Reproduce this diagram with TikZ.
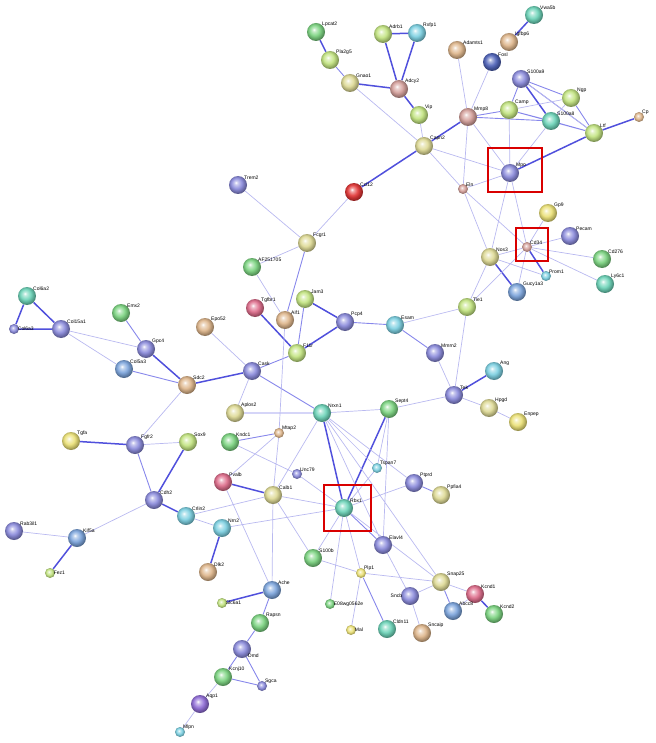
\documentclass[tikz,border=0pt]{standalone}
\usepackage{fontspec}
\setmainfont{Liberation Sans}
\usetikzlibrary{backgrounds}
\definecolor{cSlate}{RGB}{140,140,220}
\definecolor{cKhaki}{RGB}{222,218,150}
\definecolor{cYG}{RGB}{195,228,130}
\definecolor{cGreen}{RGB}{125,212,130}
\definecolor{cTeal}{RGB}{110,212,185}
\definecolor{cCyan}{RGB}{125,208,225}
\definecolor{cTan}{RGB}{222,182,140}
\definecolor{cRose}{RGB}{212,160,155}
\definecolor{cRed}{RGB}{225,55,55}
\definecolor{cPink}{RGB}{222,110,140}
\definecolor{cSteel}{RGB}{125,165,220}
\definecolor{cYellow}{RGB}{235,225,120}
\definecolor{cPurple}{RGB}{145,110,215}
\definecolor{cNavy}{RGB}{80,100,185}
\definecolor{eLight}{RGB}{185,185,240}
\definecolor{eMid}{RGB}{135,135,235}
\definecolor{eDark}{RGB}{80,80,220}
\makeatletter
\pgfdeclareradialshading[tikz@ball]{glossy}{\pgfpoint{-6bp}{7bp}}{%
  color(0bp)=(white); color(5bp)=(tikz@ball!45!white);
  color(14bp)=(tikz@ball!90!white); color(20bp)=(tikz@ball!85!black);
  color(26bp)=(tikz@ball!65!black); color(50bp)=(tikz@ball!40!black)}
\makeatother
\tikzset{
  prot/.style={circle, minimum size=18pt, inner sep=0pt, ball color=#1, shading=glossy},
  sm/.style={prot=#1, minimum size=10pt},
  lab/.style={font=\fontsize{5}{6}\selectfont, inner sep=0.5pt},
  every label/.style={lab, label distance=-2pt},
  e1/.style={eLight, line width=0.7pt},
  e2/.style={eMid, line width=0.9pt},
  e3/.style={eDark, line width=1.5pt},
  hit/.style={draw=red!85!black, line width=1.6pt}
}
\begin{document}
\begin{tikzpicture}[x=1pt,y=-1pt]
\useasboundingbox (0,0) rectangle (655,743);

% top cluster
\node[prot=cGreen, label=40:Lpcat2] (lpcat2) at (316,32) {};
\node[prot=cYG, label=40:Pla2g5] (pla2g5) at (330,60) {};
\node[prot=cKhaki, label=40:Gnao1] (gnao1) at (350,83) {};
\node[prot=cYG, label=40:Adrb1] (adrb1) at (383,34) {};
\node[prot=cCyan, label=40:Rxfp1] (rxfp1) at (417,33) {};
\node[prot=cRose, label=40:Adcy2] (adcy2) at (399,89) {};
\node[prot=cYG, label=40:Vip] (vip) at (419,115) {};
\node[prot=cKhaki, label=40:Capn2] (capn2) at (424,146) {};
\node[prot=cRed, label=40:Ccl12] (ccl12) at (354,192) {};
\node[prot=cSlate, label=40:Trem2] (trem2) at (238,185) {};
\node[prot=cTan, label=40:Adamts1] (adamts1) at (457,50) {};
\node[prot=cNavy, label=40:Fosl] (fosl) at (492,62) {};
\node[prot=cTeal, label=40:Vwa5b] (vwa) at (534,15) {};
\node[prot=cTan, label=40:Igfbp6] (igfbp) at (509,42) {};
\node[prot=cSlate, label=40:S100a9] (s100a9) at (521,79) {};
\node[prot=cYG, label=40:Ngp] (ngp) at (571,98) {};
\node[prot=cYG, label=40:Camp] (camp) at (509,110) {};
\node[prot=cTeal, label=40:S100a8] (s100a8) at (551,121) {};
\node[prot=cYG, label=40:Ltf] (ltf) at (594,133) {};
\node[sm=cTan, label=40:Cp] (cp) at (639,117) {};
\node[prot=cRose, label=40:Mmp8] (mmp8) at (468,117) {};
\node[prot=cSlate, label=40:Mpo] (mpo) at (510,173) {};
\node[sm=cRose, label=40:Eln] (eln) at (463,189) {};

% vessel cluster
\node[prot=cYellow, label=40:Gp9] (gp9) at (548,213) {};
\node[prot=cSlate, label=40:Pecam] (pecam) at (570,236) {};
\node[sm=cRose, label=40:Cd34] (cd34) at (527,247) {};
\node[prot=cKhaki, label=40:Nos3] (nos3) at (490,257) {};
\node[prot=cGreen, label=40:Cd276] (cd276) at (602,259) {};
\node[sm=cCyan, label=40:Prom1] (prom1) at (546,276) {};
\node[prot=cSteel, label=40:Gucy1a3] (gucy) at (517,292) {};
\node[prot=cTeal, label=40:Ly6c1] (ly6c1) at (605,284) {};
\node[prot=cYG, label=40:Tie1] (tie1) at (467,307) {};
\node[prot=cSlate, label=40:Mmrn2] (mmrn2) at (435,353) {};
\node[prot=cSlate, label=40:Tek] (tek) at (454,395) {};
\node[prot=cCyan, label=40:Ang] (ang) at (494,371) {};
\node[prot=cKhaki, label=40:Hpgd] (hpgd) at (489,408) {};
\node[prot=cYellow, label=40:Enpep] (enpep) at (518,422) {};

% middle
\node[prot=cKhaki, label=40:Fcgr1] (fcgr1) at (307,243) {};
\node[prot=cGreen, label=40:AF251705] (af25) at (252,267) {};
\node[prot=cYG, label=40:Jam3] (jam3) at (305,299) {};
\node[prot=cPink, label=40:Tgfbr1] (tgfbr1) at (255,308) {};
\node[prot=cTan, label=40:Aif1] (aif1) at (285,320) {};
\node[prot=cSlate, label=40:Pcp4] (pcp4) at (345,322) {};
\node[prot=cCyan, label=40:Esam] (esam) at (395,325) {};
\node[prot=cTan, label=40:Epo52] (epo52) at (205,327) {};
\node[prot=cYG, label=40:F11r] (f11r) at (297,353) {};
\node[prot=cSlate, label=40:Cask] (cask) at (252,371) {};
\node[prot=cTan, label=40:Sdc2] (sdc2) at (187,385) {};
\node[prot=cKhaki, label=40:Aplos2] (aplos2) at (235,413) {};
\node[prot=cTeal, label=40:Nrxn1] (nrxn1) at (322,413) {};
\node[prot=cGreen, label=40:Sept4] (sept4) at (389,409) {};
\node[prot=cGreen, label=40:Kndc1] (kndc1) at (230,442) {};
\node[sm=cTan, label=40:Mtap2] (mtap2) at (279,433) {};
\node[sm=cSlate, label=40:Unc79] (unc79) at (297,474) {};
\node[sm=cCyan, label=40:Tspan7] (tspan7) at (377,468) {};
\node[prot=cPink, label=40:Pvalb] (pvalb) at (223,482) {};
\node[prot=cKhaki, label=40:Calb1] (calb1) at (273,495) {};
\node[prot=cTeal, label=40:Rbx1] (rbx1) at (344,508) {};
\node[prot=cSlate, label=40:Ptprd] (ptprd) at (414,483) {};
\node[prot=cKhaki, label=40:Ppfia4] (ppfia4) at (441,495) {};
\node[prot=cSlate, label=40:Elavl4] (elavl4) at (383,545) {};

% left
\node[prot=cTeal, label=40:Col6a2] (col6a2) at (27,296) {};
\node[sm=cSlate, label=0:Col6a3] (col6a3) at (14,329) {};
\node[prot=cSlate, label=40:Col15a1] (col15a1) at (61,329) {};
\node[prot=cGreen, label=40:Emx2] (emx2) at (121,313) {};
\node[prot=cSlate, label=40:Gpc4] (gpc4) at (146,349) {};
\node[prot=cSteel, label=40:Col5a3] (col5a3) at (124,369) {};
\node[prot=cSlate, label=40:Fgfr2] (fgfr2) at (135,445) {};
\node[prot=cYellow, label=40:Tgfa] (tgfa) at (71,441) {};
\node[prot=cYG, label=40:Sox9] (sox9) at (188,442) {};
\node[prot=cSlate, label=40:Cdh2] (cdh2) at (154,500) {};
\node[prot=cCyan, label=40:Crlin2] (crlin2) at (186,516) {};
\node[prot=cCyan, label=40:Nrn2] (nrn2) at (222,528) {};
\node[prot=cTan, label=40:Dlk2] (dlk2) at (208,572) {};
\node[prot=cSlate, label=40:Rab3il1] (rab) at (14,531) {};
\node[prot=cSteel, label=40:Kif5a] (kif5a) at (77,538) {};
\node[sm=cYG, label=0:Fez1] (fez1) at (50,573) {};

% bottom
\node[prot=cGreen, label=40:S100b] (s100b) at (313,558) {};
\node[sm=cYellow, label=40:Plp1] (plp1) at (361,573) {};
\node[sm=cGreen, label=0:E08wg0562e] (e08) at (330,604) {};
\node[sm=cYellow, label=0:Mal] (mal) at (351,630) {};
\node[prot=cTeal, label=40:Cldn11] (cldn11) at (387,629) {};
\node[prot=cSlate, label=180:Sncb] (sncb) at (410,596) {};
\node[prot=cKhaki, label=40:Snap25] (snap25) at (441,582) {};
\node[prot=cTan, label=40:Sncaip] (sncaip) at (422,633) {};
\node[prot=cPink, label=40:Kcnd1] (kcnd1) at (475,594) {};
\node[prot=cGreen, label=40:Kcnd2] (kcnd2) at (494,614) {};
\node[prot=cSteel, label=40:Abcc8] (abcc8) at (453,611) {};
\node[prot=cSteel, label=40:Ache] (ache) at (272,590) {};
\node[sm=cYG, label=0:Slc6a1] (slc6a1) at (222,603) {};
\node[prot=cGreen, label=40:Rapsn] (rapsn) at (260,623) {};
\node[prot=cSlate, label=-40:Dmd] (dmd) at (242,649) {};
\node[prot=cGreen, label=40:Kcnj10] (kcnj10) at (223,677) {};
\node[sm=cSlate, label=40:Sgca] (sgca) at (262,686) {};
\node[prot=cPurple, label=40:Aqp1] (aqp1) at (200,704) {};
\node[sm=cCyan, label=40:Mlpn] (mlpn) at (180,732) {};

\begin{scope}[on background layer]
% strong links
\draw[e3] (lpcat2) -- (pla2g5) (gnao1) -- (adcy2) (adrb1) -- (rxfp1) (adrb1) -- (adcy2)
  (rxfp1) -- (adcy2) (adcy2) -- (vip) (capn2) -- (ccl12) (igfbp) -- (vwa)
  (s100a9) -- (s100a8) (ltf) -- (cp) (ltf) -- (mpo) (nos3) -- (gucy) (cd34) -- (prom1)
  (tek) -- (ang) (jam3) -- (pcp4) (pcp4) -- (f11r) (tgfbr1) -- (f11r) (cask) -- (sdc2)
  (gpc4) -- (sdc2) (col6a3) -- (col15a1) (col6a2) -- (col15a1) (col6a2) -- (col6a3)
  (cdh2) -- (sox9) (cdh2) -- (crlin2) (nrn2) -- (dlk2) (pvalb) -- (calb1)
  (nrxn1) -- (rbx1) (sept4) -- (rbx1) (kcnd1) -- (kcnd2) (ache) -- (slc6a1)
  (kif5a) -- (fez1) (fgfr2) -- (tgfa) (capn2) -- (mmp8);
% medium links
\draw[e2] (pla2g5) -- (gnao1) (emx2) -- (gpc4) (col5a3) -- (sdc2) (fcgr1) -- (aif1)
  (f11r) -- (cask) (pcp4) -- (esam) (esam) -- (mmrn2) (cask) -- (nrxn1) (aplos2) -- (nrxn1)
  (kndc1) -- (mtap2) (cdh2) -- (fgfr2) (ptprd) -- (ppfia4) (rbx1) -- (elavl4)
  (snap25) -- (abcc8) (ache) -- (rapsn) (rapsn) -- (dmd) (dmd) -- (kcnj10) (dmd) -- (sgca)
  (kcnj10) -- (sgca) (plp1) -- (cldn11) (s100a9) -- (camp) (s100a9) -- (ngp)
  (s100a9) -- (ltf) (camp) -- (s100a8) (ngp) -- (ltf) (s100a8) -- (ltf) (camp) -- (ltf)
  (mmp8) -- (camp) (mmp8) -- (s100a8) (jam3) -- (f11r);
% weak links
\draw[e1] (gnao1) -- (capn2) (vip) -- (capn2) (mmp8) -- (adamts1) (mmp8) -- (fosl)
  (mmp8) -- (mpo) (mmp8) -- (eln) (s100a9) -- (ltf) (camp) -- (ngp) (ngp) -- (s100a8)
  (s100a8) -- (mpo) (camp) -- (mpo) (capn2) -- (mpo) (capn2) -- (eln) (eln) -- (mpo)
  (mpo) -- (nos3) (mpo) -- (cd34) (eln) -- (nos3) (eln) -- (cd34) (cd34) -- (gp9)
  (cd34) -- (pecam) (cd34) -- (cd276) (cd34) -- (ly6c1) (cd34) -- (nos3) (nos3) -- (prom1)
  (cd34) -- (gucy) (cd34) -- (tie1) (nos3) -- (tie1) (tie1) -- (esam) (tie1) -- (tek)
  (mmrn2) -- (tek) (tek) -- (hpgd) (hpgd) -- (enpep) (sept4) -- (tek)
  (trem2) -- (fcgr1) (ccl12) -- (fcgr1) (fcgr1) -- (af25) (af25) -- (aif1)
  (aif1) -- (mtap2) (epo52) -- (cask) (cask) -- (aplos2) (nrxn1) -- (sept4)
  (col15a1) -- (gpc4) (col15a1) -- (col5a3) (sdc2) -- (fgfr2) (fgfr2) -- (sox9)
  (cdh2) -- (kif5a) (kif5a) -- (rab) (crlin2) -- (nrn2) (crlin2) -- (calb1)
  (nrn2) -- (rbx1) (mtap2) -- (calb1) (mtap2) -- (pvalb) (pvalb) -- (ache)
  (calb1) -- (rbx1) (calb1) -- (s100b) (calb1) -- (nrxn1) (unc79) -- (rbx1)
  (unc79) -- (kndc1) (nrxn1) -- (tspan7) (nrxn1) -- (ptprd) (nrxn1) -- (elavl4)
  (nrxn1) -- (snap25) (sept4) -- (tspan7) (sept4) -- (elavl4) (ptprd) -- (rbx1)
  (tspan7) -- (rbx1) (rbx1) -- (s100b) (rbx1) -- (plp1) (rbx1) -- (e08)
  (rbx1) -- (snap25) (plp1) -- (mal) (plp1) -- (snap25) (s100b) -- (plp1)
  (elavl4) -- (sncb) (snap25) -- (sncb) (sncb) -- (sncaip) (snap25) -- (kcnd1)
  (kcnd1) -- (abcc8) (ache) -- (calb1) (kcnj10) -- (aqp1) (aqp1) -- (mlpn);
\end{scope}

% highlighted
\draw[hit] (488,148) rectangle (542,192);
\draw[hit] (516,228) rectangle (548,261);
\draw[hit] (324,485) rectangle (371,531);
\end{tikzpicture}
\end{document}
